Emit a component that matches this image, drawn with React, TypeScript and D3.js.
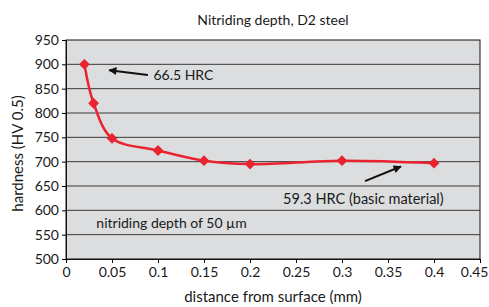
import React, { useRef, useEffect } from 'react';
import * as d3 from 'd3';

const distances = [0.02, 0.03, 0.05, 0.1, 0.15, 0.2, 0.3, 0.4];
const hardness = [900, 820, 748, 723, 702, 695, 702, 697];
const xTicks = [0, 0.05, 0.1, 0.15, 0.2, 0.25, 0.3, 0.35, 0.4, 0.45];
const yTicks = [500, 550, 600, 650, 700, 750, 800, 850, 900, 950];

const W = 489;
const H = 307;
const margin = { top: 40, right: 9, bottom: 48, left: 66 };
const FONT = 'Lato, "Open Sans", sans-serif';

const App = () => {
  const svgRef = useRef<SVGSVGElement>(null);

  useEffect(() => {
    const svg = d3.select(svgRef.current);
    svg.selectAll('*').remove();

    const chartWidth = W - margin.left - margin.right;
    const chartHeight = H - margin.top - margin.bottom;

    const x = d3.scaleLinear().domain([0, 0.45]).range([0, chartWidth]);
    const y = d3.scaleLinear().domain([500, 950]).range([chartHeight, 0]);

    svg.append('rect').attr('width', W).attr('height', H).attr('fill', '#fff');

    const g = svg.append('g').attr('transform', `translate(${margin.left},${margin.top})`);

    // plot background
    g.append('rect')
      .attr('width', chartWidth)
      .attr('height', chartHeight)
      .attr('fill', '#dcdddf')
      .attr('stroke', '#111')
      .attr('stroke-width', 1);

    // gridlines
    g.selectAll('.grid')
      .data(yTicks.slice(1, -1))
      .join('line')
      .attr('x1', 0)
      .attr('x2', chartWidth)
      .attr('y1', d => y(d))
      .attr('y2', d => y(d))
      .attr('stroke', '#3a3a3a')
      .attr('stroke-width', 1);

    // axes
    const xAxis = g.append('g')
      .attr('transform', `translate(0,${chartHeight})`)
      .call(d3.axisBottom(x).tickValues(xTicks).tickSize(4).tickPadding(4).tickFormat(d => String(d)));
    xAxis.select('.domain').attr('stroke', '#111');
    xAxis.selectAll('text').style('font-size', '14px').style('font-family', FONT).attr('fill', '#1a1a1a');
    // last label sits against the right edge
    xAxis.selectAll<SVGTextElement, number>('text')
      .filter(d => d === 0.45)
      .attr('text-anchor', 'end')
      .attr('x', 8);

    const yAxis = g.append('g')
      .call(d3.axisLeft(y).tickValues(yTicks).tickSize(4).tickPadding(3));
    yAxis.select('.domain').attr('stroke', '#111');
    yAxis.selectAll('text').style('font-size', '14px').style('font-family', FONT).attr('fill', '#1a1a1a');

    // curve
    const pts = distances.map((d, i) => [d, hardness[i]] as [number, number]);
    const line = d3.line<[number, number]>()
      .x(d => x(d[0]))
      .y(d => y(d[1]))
      .curve(d3.curveCatmullRom.alpha(0.5));

    g.append('path')
      .datum(pts)
      .attr('d', line)
      .attr('fill', 'none')
      .attr('stroke', '#ea2330')
      .attr('stroke-width', 2.5);

    g.selectAll('.pt')
      .data(pts)
      .join('path')
      .attr('d', d3.symbol(d3.symbolDiamond2, 75)())
      .attr('transform', d => `translate(${x(d[0])},${y(d[1])})`)
      .attr('fill', '#ea2330');

    // arrows
    const defs = svg.append('defs');
    defs.append('marker')
      .attr('id', 'ah')
      .attr('viewBox', '0 0 10 10')
      .attr('refX', 9)
      .attr('refY', 5)
      .attr('markerWidth', 5)
      .attr('markerHeight', 4)
      .attr('orient', 'auto')
      .append('path')
      .attr('d', 'M0,0 L10,5 L0,10 z')
      .attr('fill', '#111');

    const arrows = [
      { from: [0.089, 878], to: [0.047, 888] },
      { from: [0.325, 660], to: [0.364, 690] },
    ];
    g.selectAll('.arrow')
      .data(arrows)
      .join('line')
      .attr('x1', d => x(d.from[0]))
      .attr('y1', d => y(d.from[1]))
      .attr('x2', d => x(d.to[0]))
      .attr('y2', d => y(d.to[1]))
      .attr('stroke', '#111')
      .attr('stroke-width', 2)
      .attr('marker-end', 'url(#ah)');

    const notes = [
      { x: 0.095, y: 877, text: '66.5 HRC', size: 14 },
      { x: 0.236, y: 624, text: '59.3 HRC (basic material)', size: 14.5 },
      { x: 0.033, y: 574, text: 'nitriding depth of 50 µm', size: 14 },
    ];
    g.selectAll('.note')
      .data(notes)
      .join('text')
      .attr('x', d => x(d.x))
      .attr('y', d => y(d.y))
      .attr('dy', '0.35em')
      .style('font-size', d => `${d.size}px`)
      .style('font-family', FONT)
      .attr('fill', '#1a1a1a')
      .text(d => d.text);

    // titles
    svg.append('text')
      .attr('x', margin.left + chartWidth / 2)
      .attr('y', 20)
      .attr('dy', '0.35em')
      .attr('text-anchor', 'middle')
      .style('font-size', '14px')
      .style('font-family', FONT)
      .attr('fill', '#1a1a1a')
      .text('Nitriding depth, D2 steel');

    svg.append('text')
      .attr('x', margin.left + chartWidth / 2)
      .attr('y', 297)
      .attr('dy', '0.35em')
      .attr('text-anchor', 'middle')
      .style('font-size', '15px')
      .style('font-family', FONT)
      .attr('fill', '#1a1a1a')
      .text('distance from surface (mm)');

    svg.append('text')
      .attr('transform', `translate(18,${margin.top + chartHeight / 2 + 4}) rotate(-90)`)
      .attr('dy', '0.35em')
      .attr('text-anchor', 'middle')
      .style('font-size', '15px')
      .style('font-family', FONT)
      .attr('fill', '#1a1a1a')
      .text('hardness (HV 0.5)');
  }, []);

  return (
    <div style={{ position: 'fixed', left: 0, top: 0 }}>
      <svg ref={svgRef} width={W} height={H} style={{ display: 'block' }} />
    </div>
  );
};

export default App;
